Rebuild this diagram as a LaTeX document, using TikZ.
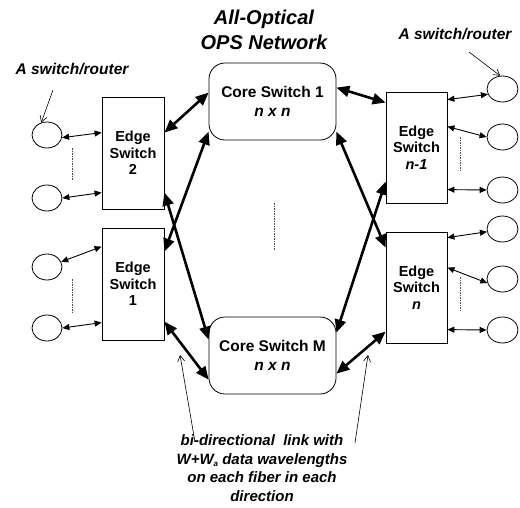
\documentclass[tikz,border=0pt]{standalone}
\usepackage{fontspec}
\setmainfont{Liberation Sans}
\usetikzlibrary{arrows.meta,shapes.geometric,calc}
\begin{document}
\begin{tikzpicture}[x=1pt,y=-1pt,
  edgebox/.style={draw, line width=0.8pt, minimum width=62pt, minimum height=112pt, align=center, inner sep=0pt, font=\bfseries\fontsize{14.5}{16.5}\selectfont},
  corebox/.style={draw, line width=0.8pt, rounded corners=16pt, minimum width=127pt, minimum height=77pt, align=center, inner sep=0pt, font=\bfseries\fontsize{15.5}{19.5}\selectfont},
  host/.style={ellipse, draw, line width=0.8pt, minimum width=30pt, minimum height=26pt, inner sep=0pt},
  biglink/.style={line width=2.6pt, {Triangle[length=13pt,width=11pt]}-{Triangle[length=13pt,width=11pt]}},
  smalllink/.style={line width=0.9pt, {Triangle[length=7pt,width=6pt]}-{Triangle[length=7pt,width=6pt]}},
  pointer/.style={line width=0.6pt, -{Straight Barb[length=6pt,width=7pt]}},
  dots/.style={line width=0.9pt, black!70, dash pattern=on 1.5pt off 1pt},
  lbl/.style={font=\bfseries\itshape\fontsize{15.5}{18.5}\selectfont, align=center, inner sep=0pt}
]
\useasboundingbox (0,0) rectangle (520,507);

% title
\node[lbl, font=\bfseries\itshape\fontsize{20}{25}\selectfont] (title) at (264,30) {All-Optical\\OPS Network};

% edge switches
\node[edgebox] (e2) at (133,153) {Edge\\Switch\\2};
\node[edgebox] (e1) at (133,284) {Edge\\Switch\\1};
\node[edgebox, minimum width=61pt, minimum height=111pt] (en1) at (416.5,147.5) {Edge\\Switch\\\textit{n-1}};
\node[edgebox, minimum width=61pt, minimum height=111pt] (en) at (416.5,287.5) {Edge\\Switch\\\textit{n}};

% core switches
\node[corebox] (c1) at (272.5,101.5) {Core Switch 1\\\textit{n x n}};
\node[corebox] (cm) at (272.5,355.5) {Core Switch M\\\textit{n x n}};

% hosts left
\node[host] (h1) at (47,135) {};
\node[host] (h2) at (47,198) {};
\node[host] (h3) at (47,267) {};
\node[host] (h4) at (47,328) {};
% hosts right
\node[host, minimum width=31pt] (r1) at (502.5,89) {};
\node[host, minimum width=31pt] (r2) at (502.5,137) {};
\node[host, minimum width=31pt] (r3) at (502.5,190) {};
\node[host, minimum width=31pt] (r4) at (502.5,229) {};
\node[host, minimum width=31pt] (r5) at (502.5,279) {};
\node[host, minimum width=31pt] (r6) at (502.5,330) {};

% host links
\draw[smalllink] (h1.350) -- ([yshift=-36pt]e2.north west);
\draw[smalllink] (h2.east) -- ([yshift=-96pt]e2.north west);
\draw[smalllink] (h3.20) -- ([yshift=-19pt]e1.north west);
\draw[smalllink] (h4.east) -- ([yshift=-95pt]e1.north west);
\draw[smalllink] ([yshift=-8pt]en1.north east) -- (r1.200);
\draw[smalllink] ([yshift=-35pt]en1.north east) -- (r2.west);
\draw[smalllink] ([yshift=-98pt]en1.north east) -- (r3.west);
\draw[smalllink] ([yshift=-6pt]en.north east) -- (r4.190);
\draw[smalllink] ([yshift=-36pt]en.north east) -- (r5.195);
\draw[smalllink] ([yshift=-98pt]en.north east) -- (r6.west);

% core links
\draw[biglink] ([yshift=-36pt]e2.north east) -- ([yshift=-30pt]c1.north west);
\draw[biglink] ([yshift=-96pt]e2.north east) -- ([yshift=-23pt]cm.north west);
\draw[biglink] ([yshift=-24pt]e1.north east) -- ([yshift=-69pt]c1.north west);
\draw[biglink] ([yshift=-94pt]e1.north east) -- ([yshift=-63pt]cm.north west);
\draw[biglink] ([yshift=-25pt]c1.north east) -- ([yshift=-11pt]en1.north west);
\draw[biglink] ([yshift=-69pt]c1.north east) -- ([yshift=-16pt]en.north west);
\draw[biglink] ([yshift=-90pt]en1.north west) -- ([yshift=-16pt]cm.north east);
\draw[biglink] ([yshift=-100pt]en.north west) -- ([yshift=-57pt]cm.north east);

% dotted lines
\draw[dots] (72,148) -- (72,180);
\draw[dots] (72,279) -- (72,313);
\draw[dots] (460,137) -- (460,172);
\draw[dots] (460,277) -- (460,310);
\draw[dots] (274,203) -- (274,250);

% labels
\node[lbl] (ll) at (72,69) {A switch/router};
\coordinate (llp) at (53,90);
\draw[pointer] (llp) -- (h1.115);
\node[lbl] (rl) at (455,34) {A switch/router};
\coordinate (rlp) at (469,52);
\draw[pointer] (rlp) -- (r1.100);

\node[lbl, font=\bfseries\itshape\fontsize{15}{18.5}\selectfont] (note) at (262,468) {bi-directional\ \ link with\\W+W\raisebox{-0.35ex}{\fontsize{8}{8}\selectfont a} data wavelengths\\on each fiber in each\\direction};
\coordinate (np1) at (195,442);
\coordinate (nt1) at (180,355);
\coordinate (np2) at (355,443);
\coordinate (nt2) at (368,355);
\draw[pointer] (np1) -- (nt1);
\draw[pointer] (np2) -- (nt2);
\end{tikzpicture}
\end{document}
